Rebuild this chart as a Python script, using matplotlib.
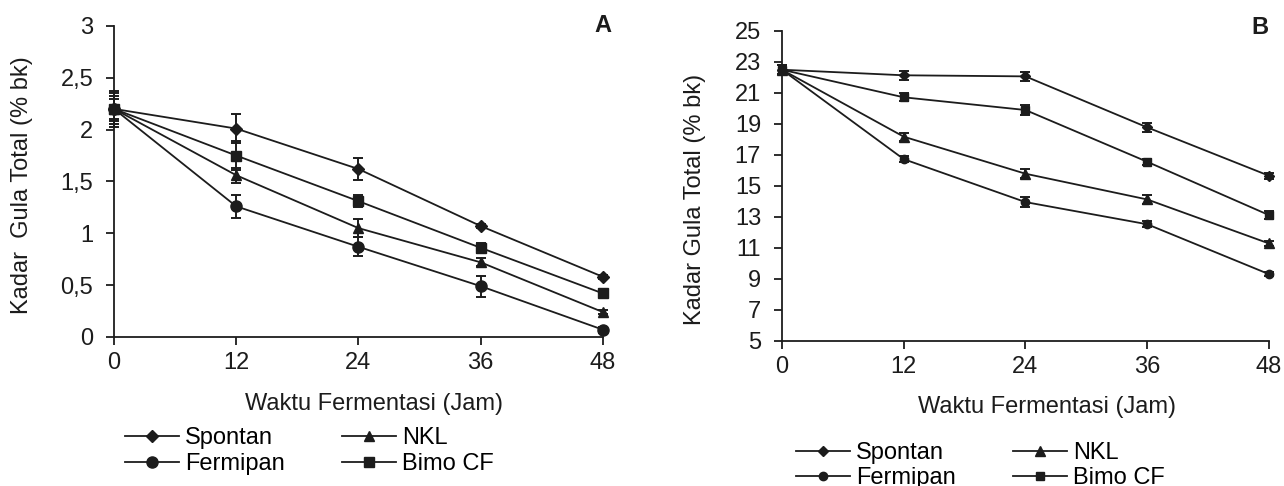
import numpy as np
import matplotlib
matplotlib.use("Agg")
import matplotlib.pyplot as plt

plt.rcParams['font.family'] = ['Liberation Sans', 'DejaVu Sans']

waktu = [0, 12, 24, 36, 48]
series = ['Spontan', 'Fermipan', 'NKL', 'Bimo CF']
markers = {'Spontan': 'D', 'Fermipan': 'o', 'NKL': '^', 'Bimo CF': 's'}

# panel A
spontan_a = [2.2, 2.01, 1.62, 1.07, 0.58]
fermipan_a = [2.2, 1.26, 0.87, 0.49, 0.07]
nkl_a = [2.2, 1.56, 1.05, 0.72, 0.24]
bimo_a = [2.2, 1.75, 1.31, 0.86, 0.42]
spontan_a_err = [0.17, 0.14, 0.11, 0.02, 0.02]
fermipan_a_err = [0.15, 0.11, 0.09, 0.10, 0.03]
nkl_a_err = [0.12, 0.07, 0.09, 0.04, 0.02]
bimo_a_err = [0.10, 0.14, 0.06, 0.05, 0.03]

# panel B
spontan_b = [22.5, 22.14, 22.07, 18.78, 15.66]
fermipan_b = [22.5, 16.73, 13.96, 12.53, 9.31]
nkl_b = [22.5, 18.18, 15.79, 14.13, 11.29]
bimo_b = [22.5, 20.72, 19.9, 16.56, 13.12]
spontan_b_err = [0.3, 0.3, 0.3, 0.3, 0.2]
fermipan_b_err = [0.3, 0.2, 0.3, 0.2, 0.15]
nkl_b_err = [0.3, 0.25, 0.3, 0.3, 0.15]
bimo_b_err = [0.3, 0.25, 0.3, 0.2, 0.25]

ink = '#1c1c1c'


def draw_panel(ax, vals, errs, ms, ylim, yticks, ylabel, tag, tag_xy):
    handles = []
    for name in series:
        cont = ax.errorbar(waktu, vals[name], yerr=errs[name], color=ink,
                           marker=markers[name], ms=ms[name], lw=1.3,
                           elinewidth=1.4, capsize=3.5, capthick=1.4,
                           clip_on=False, zorder=3)
        for art in cont.lines[1] + cont.lines[2]:
            art.set_clip_on(False)
        handles.append(cont.lines[0])
    ax.set_xlim(0, 48)
    ax.set_ylim(*ylim)
    ax.set_xticks(waktu)
    ax.set_yticks(yticks)
    ax.set_yticklabels([('%g' % t).replace('.', ',') for t in yticks])
    for s in ['top', 'right']:
        ax.spines[s].set_visible(False)
    for s in ['left', 'bottom']:
        ax.spines[s].set_linewidth(1.3)
        ax.spines[s].set_color(ink)
    ax.tick_params(axis='y', length=6, width=1.3, pad=9, labelsize=17, colors=ink)
    ax.tick_params(axis='x', length=6, width=1.3, pad=5, labelsize=17, colors=ink)
    ax.set_xlabel('Waktu Fermentasi (Jam)', fontsize=17, color=ink)
    ax.set_ylabel(ylabel, fontsize=17, color=ink)
    ax.xaxis.label.set_va('center')
    ax.yaxis.label.set_va('center')
    ax.text(tag_xy[0], tag_xy[1], tag, transform=ax.transAxes, fontsize=17,
            fontweight='bold', ha='center', va='center', color=ink)
    return handles


fig = plt.figure(figsize=(12.84, 4.86), dpi=100)
ax_a = fig.add_axes([0.0888, 0.3066, 0.3808, 0.640])
ax_b = fig.add_axes([0.609, 0.2984, 0.3793, 0.6379])

vals_a = {'Spontan': spontan_a, 'Fermipan': fermipan_a, 'NKL': nkl_a, 'Bimo CF': bimo_a}
errs_a = {'Spontan': spontan_a_err, 'Fermipan': fermipan_a_err, 'NKL': nkl_a_err, 'Bimo CF': bimo_a_err}
ms_a = {'Spontan': 6, 'Fermipan': 8, 'NKL': 7.5, 'Bimo CF': 7}
h_a = draw_panel(ax_a, vals_a, errs_a, ms_a, (0, 3), [0, 0.5, 1, 1.5, 2, 2.5, 3],
                 'Kadar  Gula Total (% bk)', 'A', (1.0, 1.003))

vals_b = {'Spontan': spontan_b, 'Fermipan': fermipan_b, 'NKL': nkl_b, 'Bimo CF': bimo_b}
errs_b = {'Spontan': spontan_b_err, 'Fermipan': fermipan_b_err, 'NKL': nkl_b_err, 'Bimo CF': bimo_b_err}
ms_b = {'Spontan': 5, 'Fermipan': 6, 'NKL': 6.5, 'Bimo CF': 5.5}
h_b = draw_panel(ax_b, vals_b, errs_b, ms_b, (5, 25), list(range(5, 26, 2)),
                 'Kadar Gula Total (% bk)', 'B', (0.981, 1.01))

ax_a.xaxis.set_label_coords(0.532, -0.215)
ax_a.yaxis.set_label_coords(-0.188, 0.489)
ax_b.xaxis.set_label_coords(0.545, -0.213)
ax_b.yaxis.set_label_coords(-0.179, 0.458)

fig.legend(h_a, series, ncol=2, loc='center left', bbox_to_anchor=(0.0973, 0.072),
           frameon=False, fontsize=17, handlelength=2.3, handletextpad=0.25,
           columnspacing=2.4, labelspacing=0.15, borderpad=0, borderaxespad=0)
fig.legend(h_b, series, ncol=2, loc='center left', bbox_to_anchor=(0.62, 0.042),
           frameon=False, fontsize=17, handlelength=2.3, handletextpad=0.25,
           columnspacing=2.4, labelspacing=0.15, borderpad=0, borderaxespad=0)

fig.savefig('out.png', dpi=100)
